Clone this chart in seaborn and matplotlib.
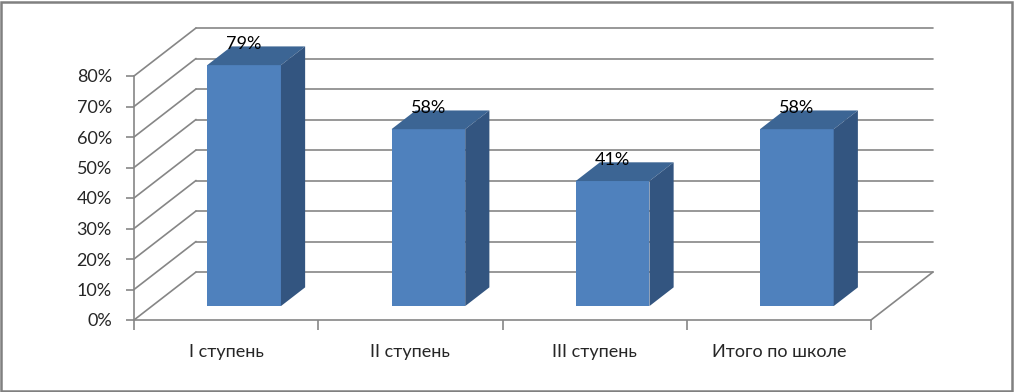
import numpy as np
import pandas as pd
import matplotlib
matplotlib.use("Agg")
import matplotlib.pyplot as plt
import seaborn as sns
from matplotlib.patches import Polygon, Rectangle

# данные
categories = ["I ступень", "II ступень", "III ступень", "Итого по школе"]
values = [0.79, 0.58, 0.41, 0.58]
y_ticks = [0.0, 0.1, 0.2, 0.3, 0.4, 0.5, 0.6, 0.7, 0.8]
y_tick_labels = ["0%", "10%", "20%", "30%", "40%", "50%", "60%", "70%", "80%"]

FRONT = "#4F81BD"
TOP = "#3C6594"
SIDE = "#335580"
GRID = "#868686"

sns.set_theme(style="white")
plt.rcParams["font.family"] = ["Lato", "DejaVu Sans"]

W, H = 1014, 392
fig = plt.figure(figsize=(W / 100, H / 100), dpi=100)
fig.patch.set_facecolor("white")

# передняя плоскость оси (в пикселях)
ax_left, ax_bottom, ax_w, ax_h = 134, 72, 737, 244
ax = fig.add_axes([ax_left / W, ax_bottom / H, ax_w / W, ax_h / H])
ax.set_facecolor("none")

df = pd.DataFrame({"cat": categories, "val": values})
sns.barplot(data=df, x="cat", y="val", width=0.4, color=FRONT, saturation=1,
            ax=ax, zorder=3)
ax.set_xlim(-0.5, 3.5)
ax.set_ylim(0, 0.8)

# глубина 3D в единицах данных
px_x = ax_w / 4.0
px_y = ax_h / 0.8
dx, dy = 62 / px_x, 48 / px_y
f0, f1 = 0.29, 0.68  # положение столбца по глубине

# стенки и сетка
for t in y_ticks:
    ax.plot([-0.5, -0.5 + dx], [t, t + dy], color=GRID, lw=1.2, clip_on=False, zorder=1)
    ax.plot([-0.5 + dx, 3.5 + dx], [t + dy, t + dy], color=GRID, lw=1.2, clip_on=False, zorder=1)
ax.plot([3.5, 3.5 + dx], [0, dy], color=GRID, lw=1.2, clip_on=False, zorder=1)

# 3D столбцы
for p, v in zip(ax.patches, values):
    x0 = p.get_x() + f0 * dx
    x1 = x0 + p.get_width()
    y0 = f0 * dy
    y1 = v + f0 * dy
    p.set_x(x0)
    p.set_y(y0)
    p.set_clip_on(False)
    p.set_edgecolor("none")
    ddx, ddy = (f1 - f0) * dx, (f1 - f0) * dy
    ax.add_patch(Polygon([(x0, y1), (x1, y1), (x1 + ddx, y1 + ddy), (x0 + ddx, y1 + ddy)],
                         closed=True, facecolor=TOP, edgecolor="none", zorder=3, clip_on=False))
    ax.add_patch(Polygon([(x1, y0), (x1 + ddx, y0 + ddy), (x1 + ddx, y1 + ddy), (x1, y1)],
                         closed=True, facecolor=SIDE, edgecolor="none", zorder=3, clip_on=False))
    ax.text((x0 + x1) / 2, y1 + 21 / px_y, f"{v:.0%}", ha="center", va="center",
            fontsize=13, color="black", zorder=4, clip_on=False)

# оси
for s in ["top", "right"]:
    ax.spines[s].set_visible(False)
for s in ["left", "bottom"]:
    ax.spines[s].set_color(GRID)
    ax.spines[s].set_linewidth(1.2)
    ax.spines[s].set_zorder(1)

ax.set_yticks(y_ticks)
ax.set_yticklabels(y_tick_labels)
ax.set_xticks(range(len(categories)))
ax.set_xticklabels(categories)
ax.set_xticks(np.arange(-0.5, 4.0, 1.0), minor=True)
ax.tick_params(axis="y", direction="out", length=6, width=1.2, color=GRID,
               labelsize=13, pad=10, left=True)
ax.tick_params(axis="x", which="major", length=0, labelsize=13, pad=17)
ax.tick_params(axis="x", which="minor", direction="out", length=7, width=1.2,
               color=GRID, bottom=True)
ax.set_xlabel("")
ax.set_ylabel("")
ax.grid(False)

# рамка
fig.patches.append(Rectangle((1 / W, 1 / H), (W - 3) / W, (H - 3) / H, transform=fig.transFigure,
                             fill=False, edgecolor="#808080", lw=1.8))

fig.savefig("out.png", dpi=100)
